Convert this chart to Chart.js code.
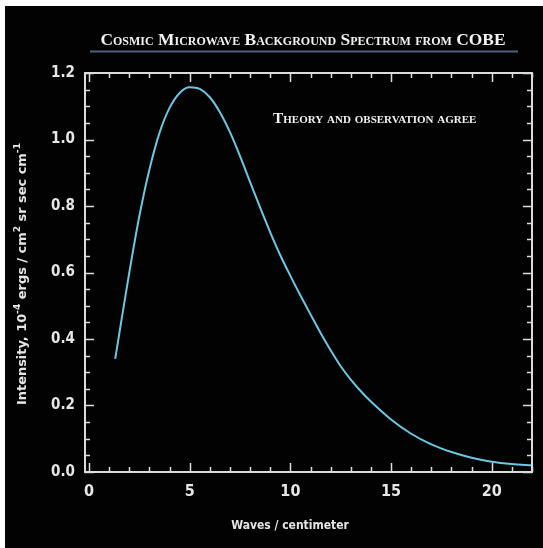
<!DOCTYPE html>
<html>
<head>
<meta charset="utf-8">
<script src="https://cdn.jsdelivr.net/npm/chart.js@4"></script>
<style>
  html, body { margin: 0; padding: 0; background: #fff; }
  #wrap { position: absolute; left: 5px; top: 6px; width: 538px; height: 542px; }
</style>
</head>
<body>
<div id="wrap"><canvas id="cobeChart"></canvas></div>
<script>
// values
const waveNumbers = [1.3, 1.5, 2.0, 2.5, 3.0, 3.5, 4.0, 4.5, 5.0, 5.5, 6.0, 6.5, 7.0, 7.5, 8.0, 8.5, 9.0, 9.5, 10.0, 10.5, 11.0, 11.5, 12.0, 12.5, 13.0, 13.5, 14.0, 15.0, 16.0, 17.0, 18.0, 19.0, 20.0, 21.0, 22.0];
const intensities = [0.34, 0.415, 0.60, 0.77, 0.91, 1.02, 1.095, 1.14, 1.157, 1.152, 1.127, 1.082, 1.022, 0.95, 0.872, 0.795, 0.721, 0.652, 0.59, 0.531, 0.474, 0.418, 0.366, 0.318, 0.278, 0.243, 0.212, 0.158, 0.115, 0.083, 0.06, 0.043, 0.031, 0.024, 0.02];

const xTickValues = [0, 1, 2, 3, 4, 5, 6, 7, 8, 9, 10, 11, 12, 13, 14, 15, 16, 17, 18, 19, 20, 21, 22];
const yTickValues = [0, 0.05, 0.1, 0.15, 0.2, 0.25, 0.3, 0.35, 0.4, 0.45, 0.5, 0.55, 0.6, 0.65, 0.7, 0.75, 0.8, 0.85, 0.9, 0.95, 1.0, 1.05, 1.1, 1.15, 1.2];

const titleText = 'Cosmic Microwave Background Spectrum from COBE';
const noteText = 'Theory and observation agree';
const xTitle = 'Waves / centimeter';
// y title pieces: [text, isSuperscript]
const yTitleParts = [['Intensity, 10', false], ['-4', true], [' ergs / cm', false], ['2', true], [' sr sec cm', false], ['-1', true]];

const narrow = "'Liberation Sans Narrow', 'DejaVu Sans Condensed', Arial, sans-serif";
const serif = "'Liberation Serif', 'DejaVu Serif', serif";
const ink = '#e6e6e6';

// black backdrop
const backdrop = {
  id: 'backdrop',
  beforeDraw(chart) {
    const ctx = chart.ctx;
    ctx.save();
    ctx.fillStyle = '#020202';
    ctx.fillRect(0, 0, chart.width, chart.height);
    ctx.restore();
  }
};

// frame + ticks pointing into the plot on all four sides
const innerTicks = {
  id: 'innerTicks',
  afterDatasetsDraw(chart) {
    const ctx = chart.ctx;
    const a = chart.chartArea;
    const xs = chart.scales.x, ys = chart.scales.y;
    ctx.save();
    ctx.strokeStyle = '#dcdcdc';
    ctx.lineWidth = 1.5;
    ctx.beginPath();
    xTickValues.forEach(v => {
      const px = Math.round(xs.getPixelForValue(v)) + 0.5;
      const len = v % 5 === 0 ? 9 : 5;
      ctx.moveTo(px, a.bottom); ctx.lineTo(px, a.bottom - len);
      ctx.moveTo(px, a.top); ctx.lineTo(px, a.top + len);
    });
    yTickValues.forEach(v => {
      const py = Math.round(ys.getPixelForValue(v)) + 0.5;
      const len = Math.round(v * 100) % 20 === 0 ? 9 : 5;
      ctx.moveTo(a.left, py); ctx.lineTo(a.left + len, py);
      ctx.moveTo(a.right, py); ctx.lineTo(a.right - len, py);
    });
    ctx.stroke();
    ctx.lineWidth = 2;
    ctx.strokeRect(a.left, a.top, a.right - a.left, a.bottom - a.top);
    ctx.restore();
  }
};

// small-caps headings and axis titles
const captions = {
  id: 'captions',
  afterDraw(chart) {
    const ctx = chart.ctx;
    ctx.save();
    ctx.fillStyle = '#f2f2f2';
    ctx.textAlign = 'center';
    ctx.textBaseline = 'alphabetic';

    let size = 19;
    ctx.font = 'small-caps bold ' + size + 'px ' + serif;
    if ('fontVariantCaps' in ctx) ctx.fontVariantCaps = 'small-caps';
    size = size * 403 / ctx.measureText(titleText).width;
    ctx.font = 'small-caps bold ' + size.toFixed(1) + 'px ' + serif;
    ctx.fillText(titleText, 298, 39);

    ctx.strokeStyle = '#4f5f86';
    ctx.lineWidth = 2;
    ctx.beginPath();
    ctx.moveTo(85, 45.5); ctx.lineTo(513, 45.5);
    ctx.stroke();

    size = 14;
    ctx.font = 'small-caps bold ' + size + 'px ' + serif;
    size = size * 203 / ctx.measureText(noteText).width;
    ctx.font = 'small-caps bold ' + size.toFixed(1) + 'px ' + serif;
    ctx.textAlign = 'left';
    ctx.fillText(noteText, 268, 117);
    if ('fontVariantCaps' in ctx) ctx.fontVariantCaps = 'normal';

    ctx.fillStyle = ink;
    ctx.font = 'bold 12px ' + narrow;
    ctx.textAlign = 'center';
    ctx.textBaseline = 'middle';
    ctx.fillText(xTitle, 285, 520);

    // rotated y title with raised exponents
    ctx.translate(16, 268);
    ctx.rotate(-Math.PI / 2);
    ctx.textAlign = 'left';
    ctx.textBaseline = 'alphabetic';
    const base = 12, sup = 8.5;
    const fontFor = p => 'bold ' + (p[1] ? sup : base) + 'px ' + narrow;
    let total = 0;
    yTitleParts.forEach(p => { ctx.font = fontFor(p); total += ctx.measureText(p[0]).width; });
    const k = 262 / total;
    ctx.scale(k, 1);
    let cx = -total / 2;
    yTitleParts.forEach(p => {
      ctx.font = fontFor(p);
      ctx.fillText(p[0], cx, p[1] ? -1 : 4.5);
      cx += ctx.measureText(p[0]).width;
    });
    ctx.restore();
  }
};

new Chart(document.getElementById('cobeChart'), {
  type: 'line',
  data: {
    datasets: [{
      label: 'COBE spectrum',
      data: waveNumbers.map((w, i) => ({ x: w, y: intensities[i] })),
      borderColor: '#6fc6e0',
      borderWidth: 2,
      pointRadius: 0,
      fill: false,
      cubicInterpolationMode: 'monotone'
    }]
  },
  options: {
    responsive: true,
    maintainAspectRatio: false,
    animation: false,
    layout: { padding: { top: 67, right: 11, left: 0, bottom: 0 } },
    plugins: {
      legend: { display: false },
      tooltip: { enabled: false }
    },
    scales: {
      x: {
        type: 'linear',
        min: -0.2,
        max: 22,
        afterBuildTicks: s => { s.ticks = xTickValues.map(v => ({ value: v })); },
        afterFit: s => { s.height = 76; },
        grid: { display: false, drawTicks: false },
        border: { display: false },
        ticks: {
          padding: 10,
          color: ink,
          font: { family: narrow, size: 16, weight: 'bold' },
          maxRotation: 0,
          autoSkip: false,
          callback: v => (v % 5 === 0 ? String(v) : '')
        }
      },
      y: {
        min: 0,
        max: 1.2,
        afterBuildTicks: s => { s.ticks = yTickValues.map(v => ({ value: v })); },
        afterFit: s => { s.width = 80; },
        grid: { display: false, drawTicks: false },
        border: { display: false },
        ticks: {
          padding: 10,
          color: ink,
          font: { family: narrow, size: 15, weight: 'bold' },
          autoSkip: false,
          callback: v => (Math.round(v * 100) % 20 === 0 ? v.toFixed(1) : '')
        }
      }
    }
  },
  plugins: [backdrop, innerTicks, captions]
});
</script>
</body>
</html>
